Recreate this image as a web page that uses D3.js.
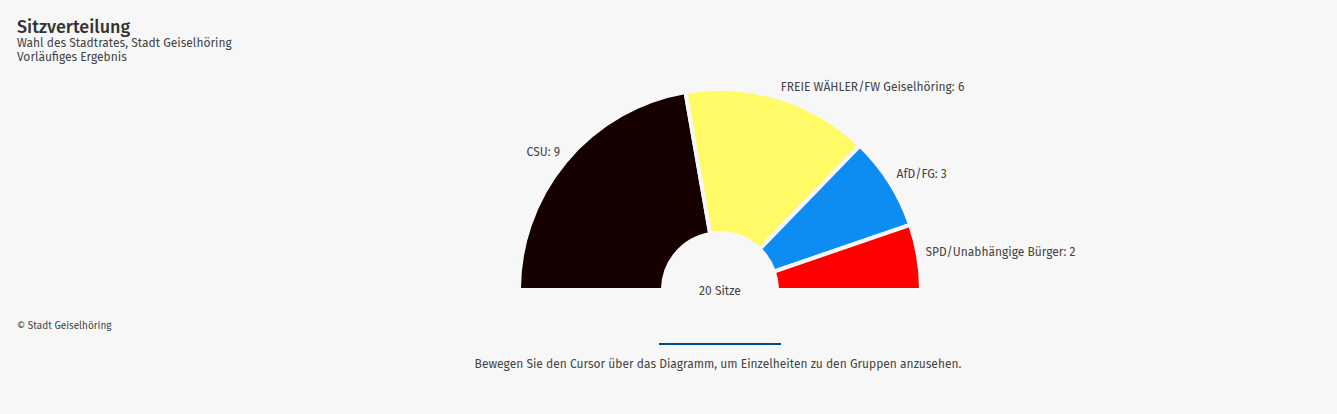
<!DOCTYPE html>
<html lang="en">
  <head>
    <meta charset="utf-8">
    <title>Sitzverteilung</title>
    <script src="https://d3js.org/d3.v7.min.js"></script>
    <style>
      html, body { margin: 0; padding: 0; background: #f7f7f7; overflow: hidden; }
      text { font-family: "Fira Sans", "Open Sans", "Noto Sans", sans-serif; fill: #444; }
    </style>
  </head>
  <body>
    <script type="text/javascript">

      var w = 1337;
      var h = 414;

      var parties = ["CSU", "FREIE WÄHLER/FW Geiselhöring", "AfD/FG", "SPD/Unabhängige Bürger"];
      var seats = [9, 6, 3, 2];
      var colors = ["#170000", "#fffa66", "#0d8cf2", "#ff0000"];

      // the stroke eats 2px of each edge, so the visible half disc is 199 / 59 and ends at y=288
      var cx = 720, cy = 290;
      var outerR = 201, innerR = 57;
      var labelR = 213;
      // slice borders in the picture sit about 0.9 degrees anticlockwise of the exact half circle
      var tilt = -0.9 * Math.PI / 180;

      var svg = d3.select("body")
          .append("svg")
          .attr("width", w)
          .attr("height", h)
          .style("display", "block");

      svg.append("rect")
          .attr("width", w)
          .attr("height", h)
          .attr("fill", "#f7f7f7");

      svg.append("clipPath").attr("id", "upper")
          .append("rect")
          .attr("x", -cx).attr("y", -cy)
          .attr("width", w).attr("height", cy - 2);

      // title block
      svg.append("text").attr("x", 17).attr("y", 33)
          .style("font-size", "18px").style("font-weight", 500).style("fill", "#333").text("Sitzverteilung");
      svg.append("text").attr("x", 17).attr("y", 47)
          .style("font-size", "12px").text("Wahl des Stadtrates, Stadt Geiselhöring");
      svg.append("text").attr("x", 17).attr("y", 61)
          .style("font-size", "12px").text("Vorläufiges Ergebnis");

      var pie = d3.pie().sort(null)
          .startAngle(-Math.PI / 2)
          .endAngle(Math.PI / 2)
          .value(function(d) { return d; });

      var arc = d3.arc().innerRadius(innerR).outerRadius(outerR);
      var slices = pie(seats);

      var g = svg.append("g").attr("transform", `translate (${cx}, ${cy})`);

      g.append("g")
          .attr("clip-path", "url(#upper)")
          .selectAll("path")
          .data(slices)
          .enter().append("path")
          .attr("d", function(d, i) {
            // last slice still runs down to the baseline
            return arc({
              startAngle: d.startAngle + tilt,
              endAngle: i == slices.length - 1 ? Math.PI / 2 : d.endAngle + tilt
            });
          })
          .attr("fill", function(d, i) { return colors[i] })
          .attr("stroke", "#f7f7f7")
          .attr("stroke-width", 4);

      function midAngle(d) { return (d.startAngle + d.endAngle) / 2 }

      // labels sit on a circle, left ones end there, right ones start a bit inside it
      g.selectAll("text")
          .data(slices)
          .enter().append("text")
          .attr("x", function(d) {
            var a = midAngle(d);
            return labelR * Math.sin(a) + (a < 0 ? 2 : -5);
          })
          .attr("y", function(d) {
            var a = midAngle(d);
            return -labelR * Math.cos(a) + (Math.cos(a) > 0.6 ? 4 : -1);
          })
          .attr("text-anchor", function(d) { return midAngle(d) < 0 ? "end" : "start" })
          .style("font-size", "12px")
          .text(function(d, i) { return parties[i] + ": " + seats[i] });

      svg.append("text").attr("x", cx).attr("y", 295)
          .attr("text-anchor", "middle")
          .style("font-size", "12px").text(d3.sum(seats) + " Sitze");

      svg.append("text").attr("x", 17).attr("y", 329)
          .style("font-size", "10px").text("© Stadt Geiselhöring");

      svg.append("line")
          .attr("x1", 659).attr("x2", 781)
          .attr("y1", 344).attr("y2", 344)
          .attr("stroke", "#004a8f").attr("stroke-width", 2);

      svg.append("text").attr("x", 718).attr("y", 368)
          .attr("text-anchor", "middle")
          .style("font-size", "12px")
          .text("Bewegen Sie den Cursor über das Diagramm, um Einzelheiten zu den Gruppen anzusehen.");

    </script>
  </body>
</html>
